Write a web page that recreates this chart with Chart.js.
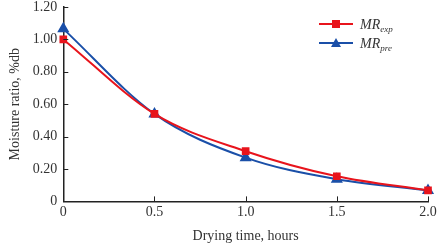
<!DOCTYPE html>
<html>
<head>
<meta charset="utf-8">
<script src="https://cdn.jsdelivr.net/npm/chart.js@4"></script>
<style>
  html, body { margin: 0; padding: 0; background: #fff; }
  #wrap { width: 441px; height: 246px; }
</style>
</head>
<body>
<div id="wrap"><canvas id="moistureChart" width="441" height="246"></canvas></div>
<script>
// Data
const dryingTime = [0, 0.5, 1.0, 1.5, 2.0];
const mrExp = [1.00, 0.54, 0.31, 0.155, 0.068];
const mrPre = [1.065, 0.54, 0.27, 0.137, 0.068];
const xTickLabels = ["0", "0.5", "1.0", "1.5", "2.0"];
const yTickLabels = ["0", "0.20", "0.40", "0.60", "0.80", "1.00", "1.20"];

const serif = "'Liberation Serif', 'DejaVu Serif', serif";
const RED = "#e8141c";
const BLUE = "#1a4fa8";

// inward tick marks on both axes
const inwardTicks = {
  id: "inwardTicks",
  afterDraw(chart) {
    const { ctx, scales } = chart;
    ctx.save();
    ctx.strokeStyle = "#222";
    ctx.lineWidth = 1;
    const xs = scales.x, ys = scales.y;
    xs.ticks.forEach(t => {
      const px = Math.round(xs.getPixelForValue(t.value)) + 0.5;
      ctx.beginPath();
      ctx.moveTo(px, ys.bottom);
      ctx.lineTo(px, ys.bottom - 5);
      ctx.stroke();
    });
    ys.ticks.forEach(t => {
      const py = Math.round(ys.getPixelForValue(t.value)) + 0.5;
      ctx.beginPath();
      ctx.moveTo(xs.left, py);
      ctx.lineTo(xs.left + 5, py);
      ctx.stroke();
    });
    ctx.restore();
  }
};

// legend with italic MR and subscripts
const subLegend = {
  id: "subLegend",
  afterDraw(chart) {
    const { ctx } = chart;
    const items = [
      { color: RED, shape: "rect", sub: "exp", y: 24 },
      { color: BLUE, shape: "triangle", sub: "pre", y: 43 }
    ];
    ctx.save();
    items.forEach(it => {
      ctx.strokeStyle = it.color;
      ctx.fillStyle = it.color;
      ctx.lineWidth = 2;
      ctx.beginPath();
      ctx.moveTo(319, it.y);
      ctx.lineTo(353, it.y);
      ctx.stroke();
      ctx.beginPath();
      if (it.shape === "rect") {
        ctx.rect(332, it.y - 4, 8, 8);
      } else {
        ctx.moveTo(336, it.y - 5);
        ctx.lineTo(341, it.y + 4);
        ctx.lineTo(331, it.y + 4);
        ctx.closePath();
      }
      ctx.fill();
      ctx.fillStyle = "#333";
      ctx.textBaseline = "alphabetic";
      ctx.font = "italic 14px " + serif;
      ctx.fillText("MR", 360, it.y + 5);
      const w = ctx.measureText("MR").width;
      ctx.font = "italic 9px " + serif;
      ctx.fillText(it.sub, 360 + w, it.y + 8);
    });
    ctx.restore();
  }
};

const ctx = document.getElementById("moistureChart").getContext("2d");

new Chart(ctx, {
  type: "line",
  data: {
    datasets: [
      {
        label: "MRexp",
        data: dryingTime.map((t, i) => ({ x: t, y: mrExp[i] })),
        borderColor: RED,
        backgroundColor: RED,
        borderWidth: 2,
        pointStyle: "rect",
        pointRadius: 4,
        cubicInterpolationMode: "monotone",
        clip: false
      },
      {
        label: "MRpre",
        data: dryingTime.map((t, i) => ({ x: t, y: mrPre[i] })),
        borderColor: BLUE,
        backgroundColor: BLUE,
        borderWidth: 2,
        pointStyle: "triangle",
        pointRadius: 5,
        cubicInterpolationMode: "monotone",
        clip: false
      }
    ]
  },
  options: {
    responsive: false,
    animation: false,
    layout: { padding: { top: 0, right: 13, bottom: 0, left: 7 } },
    plugins: { legend: { display: false }, tooltip: { enabled: false } },
    scales: {
      x: {
        type: "linear",
        min: 0,
        max: 2,
        grid: { drawOnChartArea: false, drawTicks: false },
        border: { color: "#222", width: 1.5 },
        ticks: {
          stepSize: 0.5,
          padding: 3,
          color: "#333",
          font: { family: serif, size: 14 },
          callback: (v, i) => xTickLabels[i]
        },
        title: {
          display: true,
          text: "Drying time, hours",
          color: "#333",
          font: { family: serif, size: 14 },
          padding: { top: 4, bottom: 1 }
        }
      },
      y: {
        min: 0,
        max: 1.2,
        afterFit: s => { s.paddingTop = 7; },
        grid: { drawOnChartArea: false, drawTicks: false },
        border: { color: "#222", width: 1.5 },
        ticks: {
          stepSize: 0.2,
          padding: 6,
          color: "#333",
          font: { family: serif, size: 14 },
          callback: (v, i) => yTickLabels[i]
        },
        title: {
          display: true,
          text: "Moisture ratio, %db",
          color: "#333",
          font: { family: serif, size: 14 },
          padding: { top: 0, bottom: 3 }
        }
      }
    }
  },
  plugins: [inwardTicks, subLegend]
});
</script>
</body>
</html>
